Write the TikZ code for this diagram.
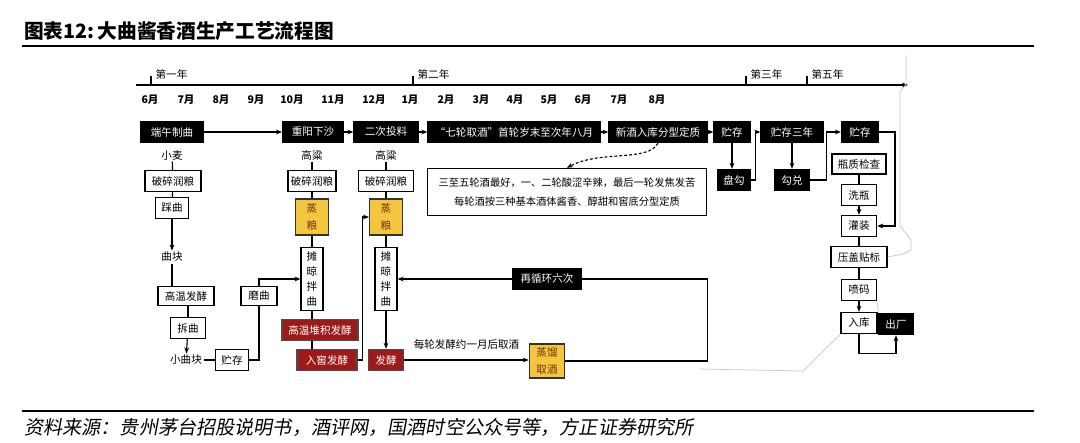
\documentclass[tikz,border=0pt]{standalone}
\usepackage{fontspec}
\setmainfont{Noto Sans CJK SC}
\newfontfamily\slantcjk{Noto Sans CJK SC}[FakeSlant=0.18]
\usepackage{tikz}
\usetikzlibrary{arrows.meta, positioning}
\definecolor{GrainGold}{HTML}{F3C640}
\definecolor{GrainText}{HTML}{7B2E0C}
\definecolor{FermRed}{HTML}{9C1A1A}

\begin{document}
\begin{tikzpicture}[x=0.025cm, y=-0.025cm,
    box/.style={draw, line width=0.9pt, inner sep=1pt, align=center, minimum height=0.53cm, font=\fontsize{7.5}{10.5}\selectfont},
    blackst/.style={box, fill=black, text=white},
    whitest/.style={box, fill=white},
    grainst/.style={box, fill=GrainGold, text=GrainText, draw=black!80, font=\fontsize{7.5}{12}\selectfont},
    fermst/.style={box, fill=FermRed, text=white, draw=black!70},
    txt/.style={inner sep=1pt, font=\fontsize{7.5}{9}\selectfont},
    month/.style={inner sep=0pt, font=\bfseries\fontsize{7.5}{9}\selectfont},
    arr/.style={-{Stealth[length=1.5mm, width=1.2mm]}, line width=0.8pt},
    link/.style={line width=0.8pt},
    dasharr/.style={arr, dash pattern=on 2pt off 1.5pt},
    ghost/.style={draw=black!22, line width=0.5pt},
]
\useasboundingbox (0,0) rectangle (1080,442);

% --- Title and rules ---
\node[anchor=west, inner sep=0pt, font=\bfseries\fontsize{14}{16}\selectfont] (title) at (24,31) {图表12:\,大曲酱香酒生产工艺流程图};
\draw[line width=1.2pt] (22,46) -- (1034,46);
\draw[line width=1.2pt] (22,411) -- (1034,411);
\node[anchor=west, inner sep=0pt, font=\slantcjk\fontsize{13.6}{15}\selectfont] (source) at (24,427) {资料来源：贵州茅台招股说明书，酒评网，国酒时空公众号等，方正证券研究所};

% --- Time axis ---
\coordinate (tl0) at (136,85);
\coordinate (tl1) at (908,85);
\draw[arr] (tl0) -- (tl1);
\foreach \x/\yr in {151/第一年, 413/第二年, 746/第三年, 807/第五年} {
    \draw[link] (\x,76) -- (\x,85);
    \node[txt, anchor=west] (yr\x) at (\x+3,74) {\yr};
}
\foreach \x/\m [count=\i] in {150/6, 186/7, 221/8, 256/9, 292/10, 333/11, 374/12, 410/1, 446/2, 481/3, 515/4, 549/5, 583/6, 619/7, 657/8}
    \node[month] (m\i) at (\x,100) {{\m}月};

% --- Main line (black) ---
\node[blackst, minimum width=1.55cm] (duanwu)    at (172,132) {端午制曲};
\node[blackst, minimum width=1.52cm] (chongyang) at (313,132) {重阳下沙};
\node[blackst, minimum width=1.6cm]  (erci)      at (386,132) {二次投料};
\node[blackst, minimum width=4.3cm]  (qilun)     at (514,132) {“七轮取酒”首轮岁末至次年八月};
\node[blackst, minimum width=2.45cm] (xinjiu)    at (658,132) {新酒入库分型定质};
\node[blackst, minimum width=0.9cm]  (zhucun1)   at (732,132) {贮存};
\node[blackst, minimum width=1.55cm] (zhucun3y)  at (792,132) {贮存三年};
\node[blackst, minimum width=0.92cm] (zhucun2)   at (860,132) {贮存};
\node[blackst, minimum width=0.8cm]  (pangou)    at (734,180) {盘勾};
\node[blackst, minimum width=0.85cm] (goudui)    at (792,180) {勾兑};

\draw[arr] (duanwu) -- (chongyang);
\draw[arr] (chongyang) -- (erci);
\draw[arr] (erci) -- (qilun);
\draw[arr] (qilun) -- (xinjiu);
\draw[arr] (xinjiu) -- (zhucun1);
\draw[arr] (zhucun1) -- (zhucun1 |- pangou.north);
\draw[arr] (pangou.east) -- ++(5,0) |- (zhucun3y.west);
\draw[arr] (zhucun3y) -- (goudui);
\draw[arr] (goudui.east) -- ++(17,0) |- (zhucun2.west);

% --- Note on the seven rounds ---
\node[whitest, minimum width=6.98cm, minimum height=1.18cm, font=\fontsize{7.3}{13.5}\selectfont] (note) at (567,192)
    {三至五轮酒最好，一、二轮酸涩辛辣，最后一轮发焦发苦\\每轮酒按三种基本酒体酱香、醇甜和窖底分型定质};
\draw[dasharr] (xinjiu.south) .. controls (648,162) and (600,150) .. (note.north);

% --- Qu making (left) ---
\node[txt] (xiaomai) at (172,155) {小麦};
\node[whitest, minimum width=1.4cm]  (posui1)     at (173,181) {破碎润粮};
\node[whitest, minimum width=0.82cm] (caiqu)      at (172,208) {踩曲};
\node[txt] (qukuai) at (172,257) {曲块};
\node[whitest, minimum width=1.4cm, minimum height=0.48cm] (gaowen) at (186,296) {高温发酵};
\node[whitest, minimum width=0.88cm] (chaiqu)     at (188,328) {拆曲};
\node[txt] (xiaoqukuai) at (186,360) {小曲块};
\node[whitest, minimum width=0.82cm] (zhucun0)    at (232,360) {贮存};
\node[whitest, minimum width=0.9cm, minimum height=0.46cm] (moqu) at (259,296) {磨曲};

\draw[link] (xiaomai) -- (posui1);
\draw[link] (posui1) -- (caiqu);
\draw[arr]  (caiqu) -- (qukuai);
\draw[link] (qukuai) -- (qukuai |- gaowen.north);
\draw[link] (chaiqu |- gaowen.south) -- (chaiqu.north);
\draw[arr]  (chaiqu) -- (xiaoqukuai);
\draw[link] (xiaoqukuai) -- (zhucun0);
\draw[link] (zhucun0.east) -| (moqu.south);

% --- Xiasha column ---
\node[txt] (gaoliang1) at (312,155) {高粱};
\node[whitest, minimum width=1.2cm] (posui2) at (312,181) {破碎润粮};
\node[grainst, minimum width=0.82cm, minimum height=0.9cm] (zhengliang1) at (312,217) {蒸\\粮};
\node[whitest, minimum width=0.55cm, minimum height=1.58cm] (tanliang1) at (312,279) {摊\\晾\\拌\\曲};
\node[fermst, minimum width=1.9cm] (duiji)  at (320,330) {高温堆积发酵};
\node[fermst, minimum width=1.5cm] (rujiao) at (327,360) {入窖发酵};

\draw[link] (gaoliang1) -- (posui2);
\draw[link] (posui2) -- (zhengliang1);
\draw[link] (zhengliang1) -- (tanliang1);
\draw[arr]  (moqu.north) |- (tanliang1.west);
\draw[link] (tanliang1.south) -- (tanliang1.south |- duiji.north);
\draw[link] (tanliang1 |- duiji.south) -- (tanliang1 |- rujiao.north);

% --- Toulia column ---
\node[txt] (gaoliang2) at (386,155) {高粱};
\node[whitest, minimum width=1.38cm] (posui3) at (386,181) {破碎润粮};
\node[grainst, minimum width=0.82cm, minimum height=0.9cm] (zhengliang2) at (386,217) {蒸\\粮};
\node[whitest, minimum width=0.55cm, minimum height=1.58cm] (tanliang2) at (386,279) {摊\\晾\\拌\\曲};
\node[fermst, minimum width=0.88cm] (fajiao) at (386,360) {发酵};
\node[grainst, minimum width=0.88cm, minimum height=0.85cm] (zhengliu) at (547,361) {蒸馏\\取酒};
\node[blackst, minimum width=1.7cm] (loop6) at (547,279) {再循环六次};

\draw[link] (gaoliang2) -- (posui3);
\draw[link] (posui3) -- (zhengliang2);
\draw[link] (zhengliang2) -- (tanliang2);
\draw[arr]  (rujiao.east) -- ++(5,0) |- (zhengliang2.west);
\draw[arr]  (tanliang2) -- (fajiao);
\draw[arr]  (fajiao.east) -- node[txt, above=6pt] {每轮发酵约一月后取酒} (zhengliu.west |- fajiao.east);
\draw[link] (zhengliu.east) -- ++(142,0) |- (loop6.east);
\draw[arr]  (loop6.west) -- (tanliang2.east);

% --- Bottling (right column) ---
\node[whitest, minimum width=1.35cm, minimum height=0.5cm] (pingzhi) at (859,164) {瓶质检查};
\node[whitest, minimum width=0.88cm] (xiping)     at (859,195) {洗瓶};
\node[whitest, minimum width=0.88cm] (guanzhuang) at (859,226) {灌装};
\node[whitest, minimum width=1.4cm]  (yagai)      at (859,257) {压盖贴标};
\node[whitest, minimum width=0.88cm] (penma)      at (859,290) {喷码};
\node[whitest, minimum width=0.9cm]  (ruku)       at (859,323) {入库};
\node[blackst, minimum width=0.85cm] (chuchang)   at (896,324) {出厂};

\draw[arr]  (zhucun2.east) -- ++(16,0) |- (guanzhuang.east);
\draw[link] (pingzhi) -- (xiping);
\draw[arr]  (xiping) -- (guanzhuang);
\draw[link] (guanzhuang) -- (yagai);
\draw[link] (yagai) -- (penma);
\draw[arr]  (penma) -- (ruku);
\draw[arr]  (ruku.south) -- ++(0,19) -| (chuchang.south);

% --- faint scan edge ---
\draw[ghost] (906,55) -- (906,84) -- (900,92) -- (900,226) -- (911,240) -- (911,250) -- (903,254) -- (yagai.east);
\draw[ghost] (penma.south east) -- (chuchang.north west);
\draw[ghost] (ruku.south west) -- (803,371) -- (700,369);

\end{tikzpicture}
\end{document}
